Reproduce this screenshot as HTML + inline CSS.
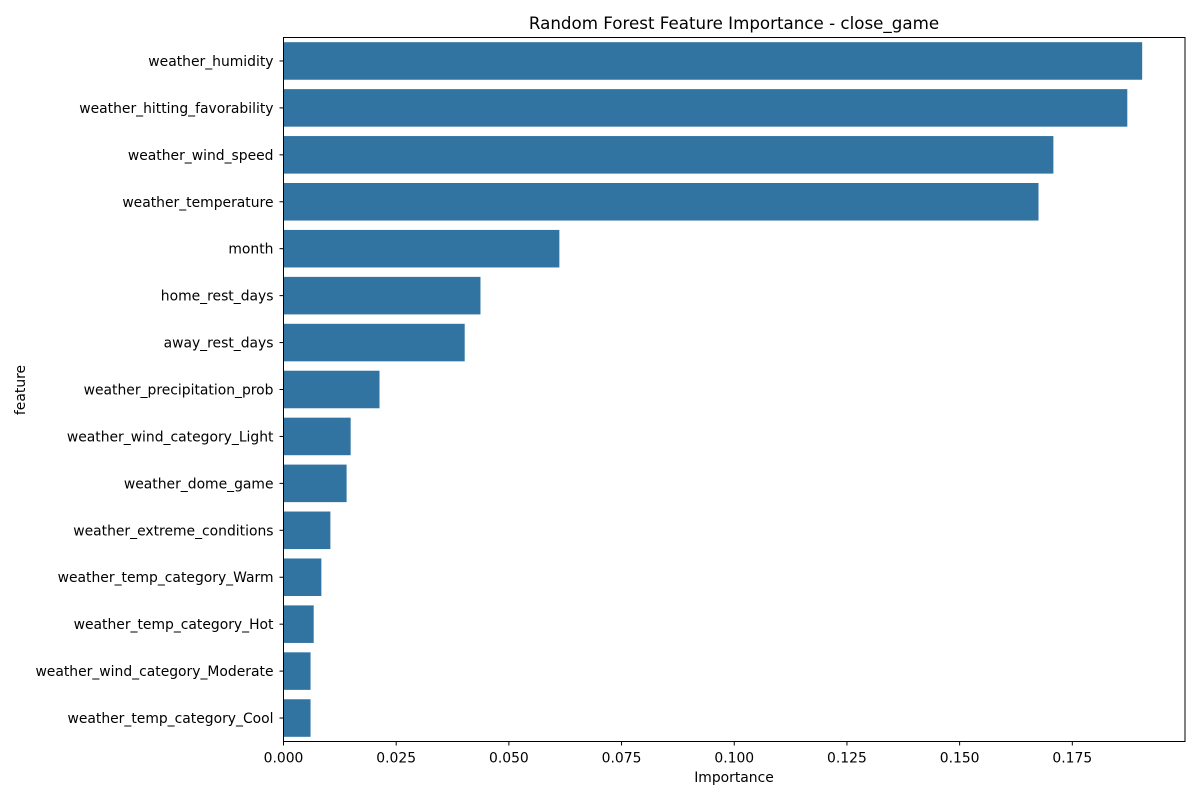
<!DOCTYPE html>
<html><head><meta charset="utf-8"><style>
body{margin:0;background:#fff}
svg{font-family:"DejaVu Sans","Liberation Sans",sans-serif}
</style></head><body>
<svg id="chart" width="1200" height="800" xmlns="http://www.w3.org/2000/svg">
<text x="734" y="29" font-size="16.7" text-anchor="middle">Random Forest Feature Importance - close_game</text>
<text x="734" y="782" font-size="13.9" text-anchor="middle">Importance</text>
<text transform="translate(25,390) rotate(-90)" font-size="13.9" text-anchor="middle">feature</text>
<g id="bars"></g><g id="axes"></g>
</svg>
<script>
const features=["weather_humidity","weather_hitting_favorability","weather_wind_speed","weather_temperature","month","home_rest_days","away_rest_days","weather_precipitation_prob","weather_wind_category_Light","weather_dome_game","weather_extreme_conditions","weather_temp_category_Warm","weather_temp_category_Hot","weather_wind_category_Moderate","weather_temp_category_Cool"];
const importance=[0.1905,0.1872,0.1708,0.1675,0.0612,0.0437,0.0402,0.0213,0.0149,0.0140,0.0104,0.0084,0.0067,0.0060,0.0060];
const xTicks=[0,0.025,0.05,0.075,0.1,0.125,0.15,0.175];
const xTickLabels=["0.000","0.025","0.050","0.075","0.100","0.125","0.150","0.175"];
const NS="http://www.w3.org/2000/svg";
const L=283.5,R=1185,T=37.5,B=741.5;
const xMax=0.2;
const x=v=>L+v/xMax*(R-L);
const step=(B-T)/features.length;
const y=i=>T+step*(i+0.5);
const bars=document.getElementById('bars'),axes=document.getElementById('axes');
function mk(tag,attrs,parent){const e=document.createElementNS(NS,tag);for(const k in attrs)e.setAttribute(k,attrs[k]);parent.appendChild(e);return e;}
features.forEach((f,i)=>{
  const r=mk('rect',{x:L,y:y(i)-step*0.4,width:x(importance[i])-L,height:step*0.8,fill:'#3274a1'},bars);
  
  
  mk('line',{x1:L-4,x2:L,y1:y(i),y2:y(i),stroke:'#000','stroke-width':1},axes);
  const t=mk('text',{x:L-10,y:y(i)+5,'font-size':13.9,'text-anchor':'end'},axes);
  t.textContent=f;
  
  
});
xTicks.forEach((v,i)=>{
  mk('line',{x1:x(v),x2:x(v),y1:B,y2:B+4,stroke:'#000','stroke-width':1},axes);
  const t=mk('text',{x:x(v),y:B+21,'font-size':13.9,'text-anchor':'middle'},axes);
  t.textContent=xTickLabels[i];
  
  
});
const frame=mk('rect',{x:L,y:T,width:R-L,height:B-T,fill:'none',stroke:'#000','stroke-width':1},axes);


</script>
</body></html>
